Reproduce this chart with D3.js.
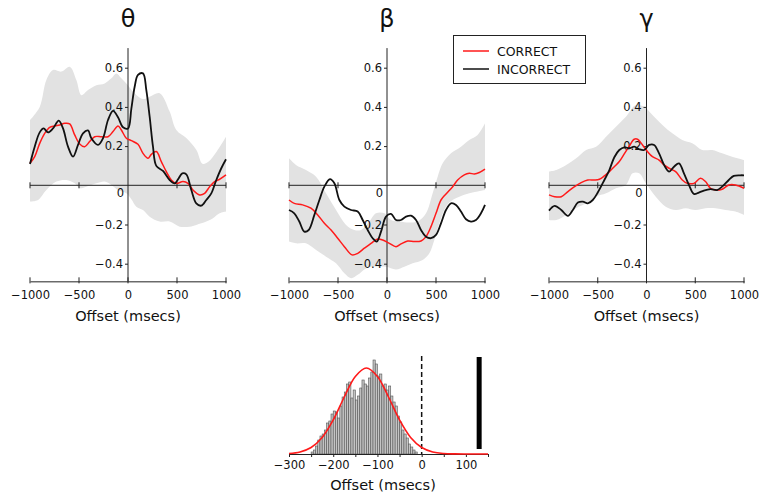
<!DOCTYPE html>
<html><head><meta charset="utf-8">
<script src="https://cdn.jsdelivr.net/npm/d3@7"></script>
<style>body{margin:0;background:#fff}text{font-family:"DejaVu Sans",sans-serif}</style>
</head><body><svg id="c" width="767" height="495"></svg>
<script>
// ---------- data ----------
const panelTitles = ["θ", "β", "γ"];
const xTickValues = [-1000, -500, 0, 500, 1000];
const yTickValues = [-0.4, -0.2, 0.2, 0.4, 0.6];
const seriesNames = ["CORRECT", "INCORRECT"];

const thetaCorrect = [[-1000,0.112],[-952,0.146],[-901,0.214],[-850,0.265],[-799,0.296],[-748,0.303],[-697,0.308],[-646,0.316],[-595,0.313],[-544,0.257],[-493,0.211],[-442,0.197],[-391,0.223],[-340,0.248],[-272,0.248],[-204,0.248],[-153,0.274],[-102,0.303],[-68,0.282],[-17,0.24],[34,0.228],[102,0.209],[153,0.163],[204,0.138],[238,0.158],[289,0.172],[340,0.121],[391,0.07],[442,0.027],[493,0.01],[561,0.019],[612,0.01],[663,-0.024],[731,-0.049],[782,-0.041],[833,-0.007],[884,0.019],[935,0.031],[1000,0.053]];
const thetaIncorrect = [[-1000,0.109],[-952,0.197],[-901,0.27],[-861,0.29],[-816,0.27],[-765,0.29],[-707,0.33],[-663,0.29],[-612,0.197],[-561,0.146],[-510,0.206],[-459,0.265],[-408,0.28],[-374,0.24],[-306,0.206],[-255,0.24],[-204,0.333],[-153,0.38],[-102,0.347],[-51,0.296],[0,0.29],[34,0.39],[68,0.503],[102,0.563],[153,0.571],[187,0.486],[221,0.35],[255,0.197],[289,0.099],[357,0.073],[425,0.027],[476,0.01],[510,0.03],[554,0.061],[595,0.056],[646,-0.024],[697,-0.092],[748,-0.104],[799,-0.075],[850,-0.041],[901,0.027],[952,0.087],[1000,0.133]];
const thetaUpper = [[-1000,0.333],[-901,0.40],[-833,0.537],[-765,0.588],[-680,0.58],[-595,0.605],[-527,0.537],[-476,0.46],[-408,0.486],[-323,0.51],[-238,0.52],[-170,0.546],[-119,0.571],[-68,0.546],[-17,0.52],[68,0.47],[153,0.44],[221,0.452],[323,0.47],[425,0.376],[493,0.282],[595,0.241],[698,0.18],[760,0.11],[820,0.12],[902,0.17],[1000,0.248]];
const thetaLower = [[-1000,-0.083],[-918,-0.075],[-833,-0.024],[-731,0.019],[-629,0.027],[-544,0.01],[-493,-0.015],[-425,-0.007],[-323,0.01],[-238,0.019],[-170,0.002],[-102,-0.024],[-17,-0.041],[34,-0.071],[85,-0.109],[153,-0.126],[221,-0.16],[323,-0.185],[425,-0.185],[527,-0.211],[629,-0.211],[697,-0.202],[799,-0.185],[867,-0.168],[935,-0.143],[1000,-0.134]];

const betaCorrect = [[-1000,-0.075],[-946,-0.092],[-861,-0.1],[-776,-0.117],[-707,-0.151],[-639,-0.194],[-571,-0.228],[-503,-0.27],[-435,-0.313],[-357,-0.355],[-299,-0.347],[-231,-0.321],[-163,-0.296],[-95,-0.274],[-44,-0.279],[24,-0.296],[92,-0.313],[143,-0.299],[211,-0.284],[279,-0.287],[347,-0.284],[398,-0.262],[449,-0.211],[500,-0.143],[551,-0.075],[602,-0.044],[670,-0.007],[721,0.027],[789,0.053],[840,0.061],[891,0.058],[942,0.065],[1000,0.082]];
const betaIncorrect = [[-1000,-0.126],[-946,-0.143],[-895,-0.185],[-844,-0.236],[-799,-0.228],[-741,-0.151],[-690,-0.075],[-639,-0.007],[-582,0.031],[-537,0.01],[-486,-0.075],[-435,-0.109],[-367,-0.126],[-299,-0.134],[-248,-0.177],[-197,-0.228],[-146,-0.27],[-105,-0.287],[-61,-0.236],[-10,-0.16],[41,-0.146],[92,-0.177],[143,-0.177],[194,-0.16],[245,-0.155],[296,-0.177],[347,-0.228],[398,-0.262],[449,-0.27],[500,-0.253],[551,-0.194],[602,-0.126],[653,-0.092],[704,-0.1],[755,-0.134],[806,-0.173],[857,-0.185],[908,-0.177],[959,-0.143],[1000,-0.1]];
const betaUpper = [[-1000,0.138],[-929,0.104],[-827,0.078],[-724,0.044],[-622,-0.041],[-520,-0.126],[-418,-0.202],[-333,-0.228],[-265,-0.228],[-180,-0.185],[-112,-0.143],[-27,-0.143],[41,-0.177],[126,-0.185],[228,-0.19],[313,-0.185],[398,-0.143],[466,-0.041],[517,0.044],[568,0.112],[653,0.163],[755,0.197],[840,0.231],[925,0.257],[1000,0.316]];
const betaLower = [[-1000,-0.287],[-929,-0.296],[-827,-0.296],[-724,-0.33],[-622,-0.364],[-520,-0.398],[-435,-0.449],[-367,-0.474],[-299,-0.457],[-231,-0.429],[-163,-0.415],[-78,-0.415],[-10,-0.415],[92,-0.429],[177,-0.415],[262,-0.398],[364,-0.381],[432,-0.347],[483,-0.279],[534,-0.194],[602,-0.109],[670,-0.075],[738,-0.058],[840,-0.041],[925,-0.032],[1000,-0.024]];

const gammaCorrect = [[-1000,-0.049],[-942,-0.058],[-874,-0.058],[-806,-0.032],[-738,-0.007],[-670,0.014],[-602,0.027],[-534,0.027],[-483,0.031],[-432,0.048],[-381,0.07],[-330,0.095],[-279,0.121],[-228,0.16],[-177,0.2],[-126,0.235],[-92,0.235],[-41,0.206],[10,0.172],[61,0.146],[129,0.129],[180,0.104],[231,0.087],[299,0.07],[367,0.027],[418,0.01],[486,0.01],[554,0.036],[605,0.019],[656,-0.015],[707,-0.024],[776,-0.02],[844,0.002],[912,0.002],[1000,-0.015]];
const gammaIncorrect = [[-1000,-0.129],[-942,-0.105],[-874,-0.126],[-806,-0.156],[-755,-0.126],[-704,-0.088],[-653,-0.083],[-602,-0.092],[-551,-0.075],[-500,-0.037],[-432,0.027],[-381,0.078],[-330,0.143],[-279,0.18],[-228,0.194],[-177,0.189],[-126,0.197],[-75,0.184],[-24,0.18],[27,0.206],[78,0.206],[129,0.163],[180,0.104],[231,0.07],[282,0.095],[333,0.112],[384,0.061],[435,0.002],[486,-0.044],[537,-0.037],[588,-0.027],[656,-0.02],[724,-0.024],[776,-0.007],[844,0.027],[895,0.048],[960,0.051],[1000,0.051]];
const gammaUpper = [[-1000,0.07],[-925,0.078],[-823,0.104],[-721,0.138],[-619,0.18],[-517,0.197],[-415,0.248],[-313,0.299],[-211,0.35],[-109,0.41],[-24,0.401],[61,0.359],[163,0.308],[265,0.265],[367,0.231],[469,0.214],[571,0.18],[673,0.18],[776,0.163],[878,0.146],[1000,0.129]];
const gammaLower = [[-1000,-0.177],[-925,-0.177],[-823,-0.151],[-721,-0.117],[-619,-0.092],[-517,-0.058],[-415,-0.041],[-313,-0.015],[-211,0.002],[-143,0.061],[-75,0.061],[-7,0.01],[95,-0.058],[197,-0.109],[299,-0.126],[401,-0.117],[503,-0.126],[605,-0.117],[707,-0.117],[810,-0.126],[912,-0.134],[1000,-0.151]];

// histogram of offsets (bin start, count), bin width 5 ms
const histBinWidth = 5;
const histBins = [-250,-245,-240,-235,-230,-225,-220,-215,-210,-205,-200,-195,-190,-185,-180,-175,-170,-165,-160,-155,-150,-145,-140,-135,-130,-125,-120,-115,-110,-105,-100,-95,-90,-85,-80,-75,-70,-65,-60,-55,-50,-45,-40,-35,-30,-25,-20,-15];
const histCounts = [2,4,8,14,18,20,24,31,33,40,43,42,36,48,57,62,70,72,56,64,54,58,66,74,70,68,76,82,94,90,78,80,68,70,64,68,58,52,48,38,32,24,20,16,10,7,4,2];
// fitted normal curve
const fitX = [-300,-275,-250,-225,-200,-175,-150,-125,-100,-75,-50,-25,0,25,50,75,100,125,150];
const fitY = [0.5,2.1,6.5,16.5,34,57,77.6,86,77.6,57,34,16.5,6.5,2.1,0.5,0.1,0,0,0];
const histTicks = [-300,-250,-200,-150,-100,-50,0,50,100,150];
const histLabels = [-300,-200,-100,0,100];
const observedOffset = 130;

const panels = [
  {title: panelTitles[0], correct: thetaCorrect, incorrect: thetaIncorrect, upper: thetaUpper, lower: thetaLower, x0: 30, x1: 226},
  {title: panelTitles[1], correct: betaCorrect, incorrect: betaIncorrect, upper: betaUpper, lower: betaLower, x0: 289, x1: 485},
  {title: panelTitles[2], correct: gammaCorrect, incorrect: gammaIncorrect, upper: gammaUpper, lower: gammaLower, x0: 549, x1: 744}
];

// ---------- drawing ----------
const svg = d3.select("#c");
const fmt = d => (d < 0 ? "\u2212" : "") + String(Math.abs(d));
const axisColor = "#222";
const yMin = -0.49;

panels.forEach(p => {
  const x = d3.scaleLinear().domain([-1000, 1000]).range([p.x0, p.x1]);
  const y = d3.scaleLinear().domain([0, 0.6]).range([185.3, 67.7]);
  const yBottom = y(yMin);
  const g = svg.append("g");

  // confidence band
  const ln = d3.line().x(d => x(d[0])).y(d => y(d[1])).curve(d3.curveCatmullRom.alpha(0.5));
  const bandPath = ln(p.upper) + "L" + ln(p.lower.slice().reverse()).slice(1) + "Z";
  g.append("path").attr("d", bandPath).attr("fill", "#e2e2e2").attr("stroke", "none");

  // zero line with ticks
  g.append("line").attr("x1", x(-1000)).attr("x2", x(1000)).attr("y1", y(0)).attr("y2", y(0))
    .attr("stroke", axisColor).attr("stroke-width", 1);
  g.selectAll(".zt").data(xTickValues.filter(d => d !== 0)).enter().append("line")
    .attr("x1", d => x(d)).attr("x2", d => x(d)).attr("y1", y(0) - 3).attr("y2", y(0) + 3)
    .attr("stroke", axisColor).attr("stroke-width", 1);

  // vertical axis at 0
  const ya = d3.axisLeft(y).tickValues(yTickValues).tickSize(3).tickPadding(2).tickFormat(fmt);
  const yg = g.append("g").attr("transform", `translate(${x(0)},0)`).call(ya);
  yg.select(".domain").remove();
  yg.selectAll("line").attr("stroke", axisColor);
  yg.selectAll("text").attr("font-size", 11.5).attr("fill", "#111").attr("font-family", "DejaVu Sans");
  g.append("line").attr("x1", x(0)).attr("x2", x(0)).attr("y1", y(0.7)).attr("y2", yBottom)
    .attr("stroke", axisColor).attr("stroke-width", 1);
  g.append("text").attr("x", x(0) - 4).attr("y", y(0) + 12).attr("text-anchor", "end")
    .attr("font-size", 11.5).attr("fill", "#111").text("0");

  // bottom axis
  const xa = d3.axisBottom(x).tickValues(xTickValues).tickSizeInner(0).tickSizeOuter(0).tickPadding(10).tickFormat(fmt);
  const xg = g.append("g").attr("transform", `translate(0,${yBottom})`).call(xa);
  xg.select(".domain").attr("stroke", axisColor);
  xg.selectAll("text").attr("font-size", 11.5).attr("fill", "#111").attr("font-family", "DejaVu Sans");
  g.selectAll(".bt").data(xTickValues).enter().append("line")
    .attr("x1", d => x(d)).attr("x2", d => x(d)).attr("y1", yBottom - 4).attr("y2", yBottom + 2)
    .attr("stroke", axisColor).attr("stroke-width", 1);

  // lines
  g.append("path").attr("d", ln(p.correct)).attr("fill", "none").attr("stroke", "#ff1a1a").attr("stroke-width", 1.5);
  g.append("path").attr("d", ln(p.incorrect)).attr("fill", "none").attr("stroke", "#111").attr("stroke-width", 1.8);

  // x label & title
  g.append("text").attr("x", x(0)).attr("y", 321).attr("text-anchor", "middle")
    .attr("font-size", 14.5).attr("fill", "#111").text("Offset (msecs)");
  g.append("text").attr("x", x(0)).attr("y", 27).attr("text-anchor", "middle")
    .attr("font-size", 24).attr("fill", "#111").text(p.title);
});

// legend
const lg = svg.append("g");
lg.append("rect").attr("x", 453.5).attr("y", 35.5).attr("width", 132).attr("height", 48)
  .attr("fill", "#fff").attr("stroke", "#222").attr("stroke-width", 1);
[["#ff1a1a", 51], ["#111", 69]].forEach((c, i) => {
  lg.append("line").attr("x1", 463).attr("x2", 489).attr("y1", c[1]).attr("y2", c[1])
    .attr("stroke", c[0]).attr("stroke-width", 1.5);
  lg.append("text").attr("x", 497).attr("y", c[1] + 4.5).attr("font-size", 12.5).attr("fill", "#111").text(seriesNames[i]);
});

// histogram
const hx = d3.scaleLinear().domain([-300, 150]).range([289, 488]);
const hy = d3.scaleLinear().domain([0, 100]).range([454, 354]);
const hg = svg.append("g");
hg.selectAll("rect.bar").data(histBins.map((b, i) => [b, histCounts[i]])).enter().append("rect")
  .attr("class", "bar")
  .attr("x", d => hx(d[0]))
  .attr("width", hx(histBinWidth) - hx(0))
  .attr("y", d => hy(d[1]))
  .attr("height", d => hy(0) - hy(d[1]))
  .attr("fill", "#c4c4c4").attr("stroke", "#555").attr("stroke-width", 0.6);

const ha = d3.axisBottom(hx).tickValues(histTicks).tickSizeInner(3).tickSizeOuter(0).tickPadding(4)
  .tickFormat(d => histLabels.includes(d) ? fmt(d) : "");
const hag = hg.append("g").attr("transform", "translate(0,454)").call(ha);
hag.select(".domain").attr("stroke", axisColor);
hag.selectAll("line").attr("stroke", axisColor);
hag.selectAll("text").attr("font-size", 11.5).attr("fill", "#111").attr("font-family", "DejaVu Sans");

hg.append("line").attr("x1", hx(0)).attr("x2", hx(0)).attr("y1", 356).attr("y2", 454)
  .attr("stroke", "#111").attr("stroke-width", 1.5).attr("stroke-dasharray", "5,3");
hg.append("line").attr("x1", hx(observedOffset)).attr("x2", hx(observedOffset)).attr("y1", 357).attr("y2", 449)
  .attr("stroke", "#000").attr("stroke-width", 5);

const fitLine = d3.line().x((d, i) => hx(fitX[i])).y(d => hy(d)).curve(d3.curveCatmullRom.alpha(0.5));
hg.append("path").attr("d", fitLine(fitY)).attr("fill", "none").attr("stroke", "#ff1a1a").attr("stroke-width", 1.6);

hg.append("text").attr("x", 383).attr("y", 490).attr("text-anchor", "middle")
  .attr("font-size", 14.5).attr("fill", "#111").text("Offset (msecs)");
</script></body></html>
